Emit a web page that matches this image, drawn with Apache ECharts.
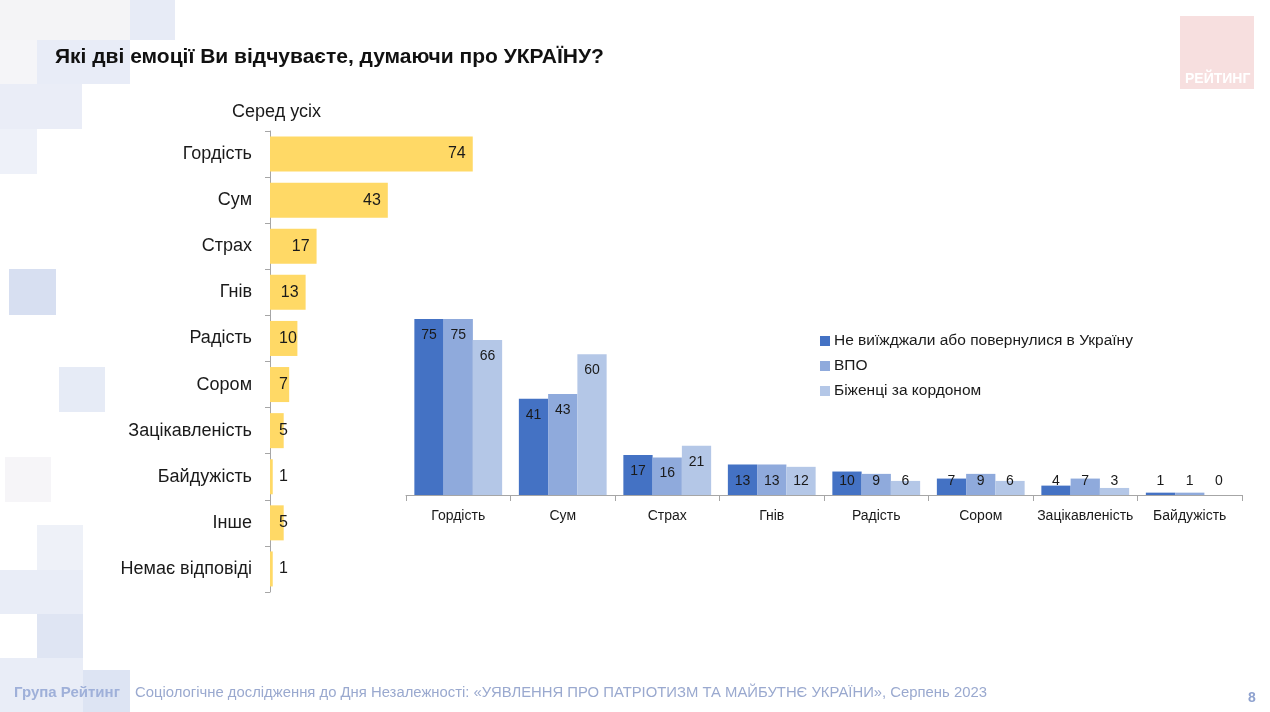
<!DOCTYPE html>
<html>
<head>
<meta charset="utf-8">
<script src="https://cdn.jsdelivr.net/npm/echarts@6/dist/echarts.min.js"></script>
<style>
html,body{margin:0;padding:0;background:#fff;}
#main{width:1270px;height:712px;}
</style>
</head>
<body>
<div id="main"></div>
<script>
// ---- data ----
const titleText = 'Які дві емоції Ви відчуваєте, думаючи про УКРАЇНУ?';
const leftTitle = 'Серед усіх';
const allCats = ['Гордість','Сум','Страх','Гнів','Радість','Сором','Зацікавленість','Байдужість','Інше','Немає відповіді'];
const allValues = [74,43,17,13,10,7,5,1,5,1];
const groupCats = ['Гордість','Сум','Страх','Гнів','Радість','Сором','Зацікавленість','Байдужість'];
const seriesNames = ['Не виїжджали або повернулися в Україну','ВПО','Біженці за кордоном'];
const stayed = [75,41,17,13,10,7,4,1];
const idp = [75,43,16,13,9,9,7,1];
const refugees = [66,60,21,12,6,6,3,0];
const footerBrand = 'Група Рейтинг';
const footerText = 'Соціологічне дослідження до Дня Незалежності: «УЯВЛЕННЯ ПРО ПАТРІОТИЗМ ТА МАЙБУТНЄ УКРАЇНИ», Серпень 2023';
const pageNum = '8';
const logoText = 'РЕЙТИНГ';

const FONT = '"Liberation Sans", Arial, sans-serif';
const groupColors = ['#4472C4','#8FAADC','#B4C7E7'];

const chart = echarts.init(document.getElementById('main'), null, {renderer:'canvas'});

function leftData(){
  return allValues.map(v => ({
    value: v,
    label: v >= 12 ? {position:'insideRight', distance:7} : {position:'insideLeft', distance:9}
  }));
}
function groupData(arr){
  return arr.map(v => ({
    value: v,
    label: v >= 15 ? {position:'insideTop', distance:9} : {position:'insideBottom', distance:7}
  }));
}

const bg = [
  [0,0,130,40,'#f4f4f6'],
  [130,0,45,40,'#e7ebf6'],
  [0,40,37,44,'#f5f5f8'],
  [37,40,93,44,'#e8ecf7'],
  [0,84,82,45,'#eaedf7'],
  [0,129,37,45,'#eef1f9'],
  [9,269,47,46,'#d7dff1'],
  [59,367,46,45,'#e6ebf6'],
  [5,457,46,45,'#f6f5f8'],
  [37,525,46,45,'#eef1f8'],
  [0,570,83,44,'#e9edf7'],
  [37,614,46,44,'#dfe5f3'],
  [0,658,83,54,'#e9edf7'],
  [83,670,47,42,'#dde4f3']
];

const graphics = bg.map(b => ({
  type:'rect', z:-10, silent:true,
  shape:{x:b[0],y:b[1],width:b[2],height:b[3]},
  style:{fill:b[4]}
}));
graphics.push(
  {type:'rect', z:-5, shape:{x:1180,y:16,width:74,height:73}, style:{fill:'#f7dfdf'}},
  {type:'text', z:10, left:1185, top:72, style:{text:logoText, fill:'#ffffff', font:'bold 14px '+FONT}},
  {type:'text', left:232, top:103, style:{text:leftTitle, fill:'#1a1a1a', font:'18px '+FONT}},
  {type:'text', left:14, top:685, style:{text:footerBrand, fill:'#9fb0d9', font:'bold 15px '+FONT}},
  {type:'text', left:135, top:685, style:{text:footerText, fill:'#9aa9cf', font:'14.85px '+FONT}},
  {type:'text', left:1248, top:691, style:{text:pageNum, fill:'#8fa2cf', font:'bold 14px '+FONT}}
);

const option = {
  animation:false,
  backgroundColor:'#ffffff',
  textStyle:{fontFamily:FONT},
  title:{
    text:titleText, left:55, top:47, padding:0,
    textStyle:{fontFamily:FONT, fontSize:21, fontWeight:'bold', color:'#111111'}
  },
  graphic: graphics,
  legend:{
    data: seriesNames,
    orient:'vertical', left:820, top:333, padding:0,
    itemWidth:10, itemHeight:10, itemGap:9,
    icon:'rect',
    textStyle:{fontFamily:FONT, fontSize:15.5, color:'#1a1a1a', padding:[0,0,0,-1]}
  },
  grid:[
    {left:270, top:131, width:274, height:461},
    {left:406, top:260.3, width:836, height:234.7}
  ],
  xAxis:[
    {gridIndex:0, type:'value', min:0, max:100, show:false},
    {gridIndex:1, type:'category', data:groupCats,
      axisLine:{lineStyle:{color:'#a6a6a6'}},
      axisTick:{show:true, length:6, interval:0, lineStyle:{color:'#a6a6a6'}},
      axisLabel:{fontFamily:FONT, fontSize:14, color:'#1a1a1a', margin:14, interval:0}
    }
  ],
  yAxis:[
    {gridIndex:0, type:'category', data:allCats, inverse:true,
      axisLine:{show:true, lineStyle:{color:'#a6a6a6'}},
      axisTick:{show:true, length:5, interval:0, lineStyle:{color:'#a6a6a6'}},
      axisLabel:{fontFamily:FONT, fontSize:18, color:'#1a1a1a', margin:18, interval:0}
    },
    {gridIndex:1, type:'value', min:0, max:100, show:false, splitLine:{show:false}}
  ],
  series:[
    {type:'bar', name:leftTitle, xAxisIndex:0, yAxisIndex:0, data:leftData(),
      barCategoryGap:'24%', itemStyle:{color:'#FFD966'},
      label:{show:true, fontFamily:FONT, fontSize:16, color:'#1a1a1a'}
    },
    ...[stayed, idp, refugees].map((arr,i) => ({
      type:'bar', name:seriesNames[i], xAxisIndex:1, yAxisIndex:1, data:groupData(arr),
      barGap:'0%', barCategoryGap:'16%', itemStyle:{color:groupColors[i]},
      label:{show:true, fontFamily:FONT, fontSize:14, color:'#1a1a1a'}
    }))
  ]
};
chart.setOption(option);
</script>
</body>
</html>
